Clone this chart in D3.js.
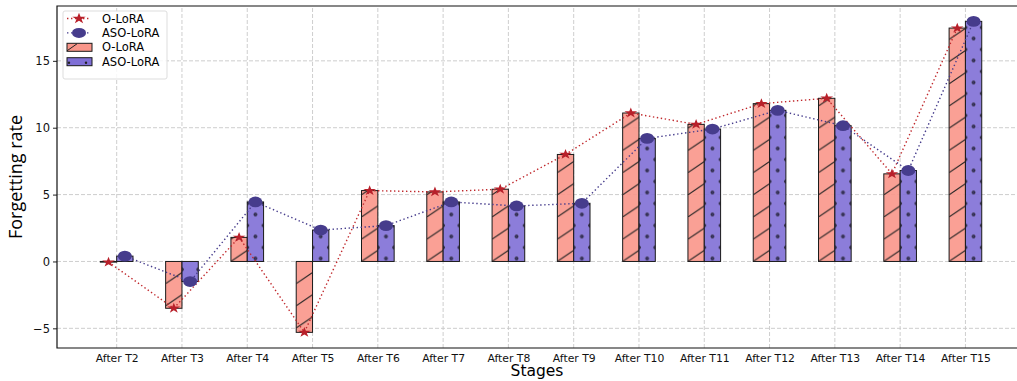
<!DOCTYPE html>
<html>
<head>
<meta charset="utf-8">
<script src="https://cdn.jsdelivr.net/npm/d3@7"></script>
<style>
  body { margin: 0; background: #fff; }
  svg { display: block; }
  .tick text { font-family: "DejaVu Sans", sans-serif; font-size: 10.8px; fill: #111; }
</style>
</head>
<body>
<div id="chart"></div>
<script>
// data
const stages = ['After T2', 'After T3', 'After T4', 'After T5', 'After T6', 'After T7', 'After T8',
    'After T9', 'After T10', 'After T11', 'After T12', 'After T13', 'After T14', 'After T15'];
const oLora = [-0.05, -3.5, 1.8, -5.3, 5.3, 5.2, 5.4, 8.0, 11.1, 10.25, 11.8, 12.2, 6.55, 17.45];
const asoLora = [0.4, -1.5, 4.45, 2.35, 2.68, 4.45, 4.15, 4.35, 9.2, 9.9, 11.3, 10.15, 6.8, 17.95];
const yTicks = [-5, 0, 5, 10, 15];

const W = 1017, H = 381;
const margin = { top: 6, right: 0, bottom: 33, left: 57 };

const svg = d3.select('#chart').append('svg')
    .attr('width', W)
    .attr('height', H);

const x = d3.scaleLinear()
    .domain([-0.914, 13.79])
    .range([margin.left, W - margin.right]);
const y = d3.scaleLinear()
    .domain([-6.47, 19.1])
    .range([H - margin.bottom, margin.top]);

const barW = 0.25;
const idx = stages.map((d, i) => i);
const bw = x(barW) - x(0);

// hatch patterns, aligned with the bars
const defs = svg.append('defs');
const hw = bw * 2, hh = bw * 2 * 0.68;
const hatch = defs.append('pattern')
    .attr('id', 'hatchSlash')
    .attr('patternUnits', 'userSpaceOnUse')
    .attr('x', x(-barW)).attr('y', y(0))
    .attr('width', hw).attr('height', hh);
hatch.append('path')
    .attr('d', `M${-hw},${2 * hh} L${2 * hw},${-hh}`)
    .attr('stroke', '#222').attr('stroke-width', 1).attr('fill', 'none');

const dots = defs.append('pattern')
    .attr('id', 'hatchDots')
    .attr('patternUnits', 'userSpaceOnUse')
    .attr('x', x(0)).attr('y', y(0) - 3)
    .attr('width', bw).attr('height', 22);
[[bw / 2, 0], [bw / 2, 22], [0, 11], [bw, 11]].forEach(([cx, cy]) => {
    dots.append('circle').attr('cx', cx).attr('cy', cy).attr('r', 1.5)
        .attr('fill', '#3a3470').attr('stroke', '#222').attr('stroke-width', 0.8);
});

// grid
const grid = svg.append('g').attr('class', 'grid');
grid.selectAll('line.gx')
    .data(idx)
    .join('line')
    .attr('x1', d => x(d)).attr('x2', d => x(d))
    .attr('y1', y.range()[0]).attr('y2', y.range()[1])
    .attr('stroke', '#c8c8c8').attr('stroke-dasharray', '4,2').attr('stroke-width', 0.9);
grid.selectAll('line.gy')
    .data(yTicks)
    .join('line')
    .attr('x1', x.range()[0]).attr('x2', x.range()[1])
    .attr('y1', d => y(d)).attr('y2', d => y(d))
    .attr('stroke', '#c8c8c8').attr('stroke-dasharray', '4,2').attr('stroke-width', 0.9);

// bars
function drawBars(values, offset, fill, pattern) {
    const g = svg.append('g');
    const rectX = i => x(i + offset);
    const top = v => y(Math.max(0, v));
    const hgt = v => Math.abs(y(v) - y(0));
    g.selectAll('rect.fill')
        .data(values)
        .join('rect')
        .attr('x', (d, i) => rectX(i)).attr('width', bw)
        .attr('y', d => top(d)).attr('height', d => hgt(d))
        .attr('fill', fill).attr('fill-opacity', 0.9);
    g.selectAll('rect.hatch')
        .data(values)
        .join('rect')
        .attr('x', (d, i) => rectX(i)).attr('width', bw)
        .attr('y', d => top(d)).attr('height', d => hgt(d))
        .attr('fill', `url(#${pattern})`)
        .attr('stroke', '#1a1a1a').attr('stroke-width', 1);
}
drawBars(oLora, -barW, '#f9968a', 'hatchSlash');
drawBars(asoLora, 0, '#7f6fd6', 'hatchDots');

// dotted lines with markers
const lineO = d3.line().x((d, i) => x(i - barW / 2)).y(d => y(d));
const lineA = d3.line().x((d, i) => x(i + barW / 2)).y(d => y(d));

svg.append('path')
    .datum(oLora)
    .attr('d', lineO)
    .attr('fill', 'none').attr('stroke', '#c0282c')
    .attr('stroke-width', 1.4).attr('stroke-dasharray', '1.4,2.6');
svg.append('path')
    .datum(asoLora)
    .attr('d', lineA)
    .attr('fill', 'none').attr('stroke', '#463c8c')
    .attr('stroke-width', 1.4).attr('stroke-dasharray', '1.4,2.6');

const star = d3.symbol().type(d3.symbolStar).size(46);
svg.append('g').selectAll('path')
    .data(oLora)
    .join('path')
    .attr('d', star)
    .attr('transform', (d, i) => `translate(${x(i - barW / 2)},${y(d)}) scale(1.05,0.85)`)
    .attr('fill', '#b8202a');

svg.append('g').selectAll('ellipse')
    .data(asoLora)
    .join('ellipse')
    .attr('cx', (d, i) => x(i + barW / 2)).attr('cy', d => y(d))
    .attr('rx', 7).attr('ry', 5.4)
    .attr('fill', '#463c8c');

// axes
const xAxis = svg.append('g')
    .attr('transform', `translate(0,${y.range()[0]})`)
    .call(d3.axisBottom(x).tickValues(idx).tickFormat(i => stages[i]).tickSize(0).tickPadding(6));
xAxis.select('.domain').remove();

const yAxis = svg.append('g')
    .attr('transform', `translate(${x.range()[0]},0)`)
    .call(d3.axisLeft(y).tickValues(yTicks).tickFormat(d => d < 0 ? '\u2212' + Math.abs(d) : d).tickSize(4).tickPadding(3));
yAxis.select('.domain').remove();
yAxis.selectAll('.tick line').attr('stroke', '#222');
yAxis.selectAll('.tick text').style('font-size', '11.5px');

// frame
svg.append('path')
    .attr('d', `M${W},${y.range()[1]} H${x.range()[0]} V${y.range()[0]} H${W}`)
    .attr('fill', 'none').attr('stroke', '#111').attr('stroke-width', 1.2);

// axis titles
svg.append('text')
    .attr('x', (x.range()[0] + x.range()[1]) / 2 + 0).attr('y', 376)
    .attr('text-anchor', 'middle')
    .style('font-family', '"DejaVu Sans", sans-serif').style('font-size', '15.5px')
    .text('Stages');
svg.append('text')
    .attr('transform', `translate(22,${(y.range()[0] + y.range()[1]) / 2}) rotate(-90)`)
    .attr('text-anchor', 'middle')
    .style('font-family', '"Liberation Sans Narrow", "Open Sans", sans-serif').style('font-size', '18px')
    .text('Forgetting rate');

// legend
const leg = svg.append('g').attr('transform', 'translate(63,11)');
leg.append('rect')
    .attr('width', 104).attr('height', 68).attr('rx', 2)
    .attr('fill', '#fff').attr('fill-opacity', 0.85)
    .attr('stroke', '#ddd');
const legendItems = [
    { label: 'O-LoRA', kind: 'line', color: '#c0282c' },
    { label: 'ASO-LoRA', kind: 'line', color: '#463c8c' },
    { label: 'O-LoRA', kind: 'bar', fill: '#f9968a' },
    { label: 'ASO-LoRA', kind: 'bar', fill: '#7f6fd6' }
];
legendItems.forEach((d, i) => {
    const cy = 7.5 + i * 14.4;
    const g = leg.append('g').attr('transform', `translate(0,${cy})`);
    if (d.kind === 'line') {
        g.append('line').attr('x1', 4).attr('x2', 28).attr('y1', 0).attr('y2', 0)
            .attr('stroke', d.color).attr('stroke-width', 1.4).attr('stroke-dasharray', '1.4,2.6');
        if (i === 0) {
            g.append('path').attr('d', star).attr('transform', 'translate(16,0) scale(1.1,0.9)').attr('fill', '#b8202a');
        } else {
            g.append('ellipse').attr('cx', 16).attr('cy', 0).attr('rx', 7).attr('ry', 5).attr('fill', d.color);
        }
    } else {
        g.append('rect').attr('x', 4).attr('y', -4).attr('width', 25).attr('height', 8)
            .attr('fill', d.fill).attr('stroke', '#1a1a1a').attr('stroke-width', 1);
        if (i === 2) {
            g.append('line').attr('x1', 4).attr('y1', 3.5).attr('x2', 14).attr('y2', -3.5)
                .attr('stroke', '#222').attr('stroke-width', 1);
        } else {
            g.append('circle').attr('cx', 6).attr('cy', 1).attr('r', 1.2).attr('fill', '#222');
            g.append('circle').attr('cx', 23).attr('cy', 1).attr('r', 1.2).attr('fill', '#222');
        }
    }
    g.append('text').attr('x', 39).attr('y', 4)
        .style('font-family', '"DejaVu Sans", sans-serif').style('font-size', '11.5px')
        .text(d.label);
});
</script>
</body>
</html>
